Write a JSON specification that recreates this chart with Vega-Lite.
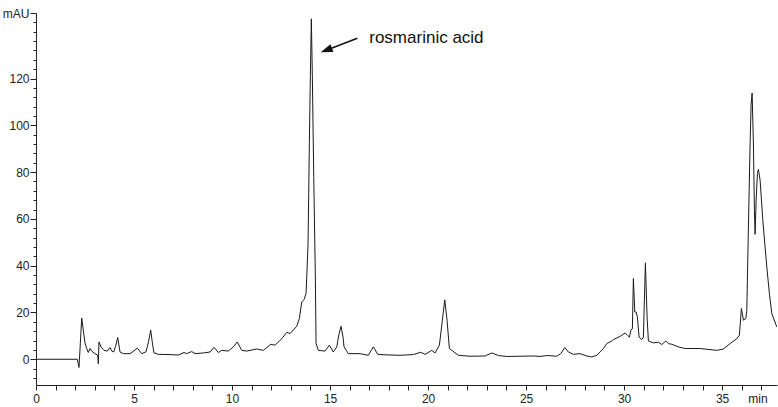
{
  "$schema": "https://vega.github.io/schema/vega-lite/v6.json",
  "autosize": "none",
  "width": 741,
  "height": 372,
  "padding": {"left": 36, "top": 13, "right": 1, "bottom": 22},
  "background": "white",
  "config": {
    "view": {"stroke": null},
    "font": "Liberation Sans",
    "axis": {"grid": false, "domainColor": "#222", "tickColor": "#222", "labelColor": "#222", "labelFont": "Liberation Sans", "labelFontSize": 12, "domainWidth": 1, "tickWidth": 1}
  },
  "datasets": {
    "trace": [
      {"t": 0, "v": 0}, {"t": 2.107, "v": 0}, {"t": 2.194, "v": -3.5}, {"t": 2.332, "v": 17.6}, {"t": 2.5, "v": 7.0},
      {"t": 2.587, "v": 4.6}, {"t": 2.668, "v": 2.9}, {"t": 2.755, "v": 4.6}, {"t": 2.857, "v": 3.4}, {"t": 3.01, "v": 2.4},
      {"t": 3.148, "v": 1.7}, {"t": 3.179, "v": -1.9}, {"t": 3.214, "v": 7.4}, {"t": 3.316, "v": 5.3}, {"t": 3.469, "v": 3.8},
      {"t": 3.638, "v": 3.5}, {"t": 3.776, "v": 5.0}, {"t": 3.862, "v": 3.5}, {"t": 3.964, "v": 3.1}, {"t": 4.056, "v": 5.5},
      {"t": 4.168, "v": 9.3}, {"t": 4.286, "v": 3.1}, {"t": 4.454, "v": 2.4}, {"t": 4.796, "v": 2.4}, {"t": 5.0, "v": 3.6},
      {"t": 5.168, "v": 4.8}, {"t": 5.393, "v": 2.4}, {"t": 5.612, "v": 3.2}, {"t": 5.74, "v": 7.5}, {"t": 5.852, "v": 12.4},
      {"t": 5.944, "v": 6.5}, {"t": 6.02, "v": 2.7}, {"t": 6.24, "v": 2.1}, {"t": 6.837, "v": 2.0}, {"t": 7.26, "v": 1.8},
      {"t": 7.551, "v": 2.9}, {"t": 7.689, "v": 2.4}, {"t": 7.944, "v": 3.3}, {"t": 8.112, "v": 2.4}, {"t": 8.536, "v": 2.7},
      {"t": 8.878, "v": 3.1}, {"t": 9.082, "v": 5.1}, {"t": 9.301, "v": 2.9}, {"t": 9.474, "v": 3.8}, {"t": 9.811, "v": 3.5},
      {"t": 10.066, "v": 5.3}, {"t": 10.27, "v": 7.4}, {"t": 10.495, "v": 3.8}, {"t": 10.75, "v": 3.5}, {"t": 11.26, "v": 4.4},
      {"t": 11.597, "v": 3.8}, {"t": 11.974, "v": 6.4}, {"t": 12.194, "v": 6.0}, {"t": 12.536, "v": 8.8}, {"t": 12.791, "v": 11.5},
      {"t": 12.959, "v": 11.0}, {"t": 13.301, "v": 14.1}, {"t": 13.434, "v": 17.4}, {"t": 13.556, "v": 24.5}, {"t": 13.673, "v": 25.5},
      {"t": 13.776, "v": 28.1}, {"t": 13.811, "v": 35.0}, {"t": 13.878, "v": 49.4}, {"t": 13.944, "v": 92.3}, {"t": 13.995, "v": 120.7},
      {"t": 14.046, "v": 145.5}, {"t": 14.097, "v": 120.7}, {"t": 14.168, "v": 78.2}, {"t": 14.25, "v": 35.2}, {"t": 14.286, "v": 6.7},
      {"t": 14.403, "v": 3.8}, {"t": 14.745, "v": 3.5}, {"t": 14.964, "v": 6.0}, {"t": 15.168, "v": 3.1}, {"t": 15.342, "v": 5.3},
      {"t": 15.449, "v": 10.5}, {"t": 15.561, "v": 14.1}, {"t": 15.663, "v": 9.5}, {"t": 15.714, "v": 5.3}, {"t": 15.934, "v": 2.4},
      {"t": 16.531, "v": 2.4}, {"t": 16.954, "v": 1.7}, {"t": 17.209, "v": 5.3}, {"t": 17.434, "v": 2.1}, {"t": 17.806, "v": 1.9},
      {"t": 18.571, "v": 1.7}, {"t": 19.25, "v": 2.0}, {"t": 19.628, "v": 3.0}, {"t": 19.847, "v": 2.1}, {"t": 20.189, "v": 3.8},
      {"t": 20.357, "v": 2.7}, {"t": 20.577, "v": 6.0}, {"t": 20.73, "v": 16.7}, {"t": 20.852, "v": 25.4}, {"t": 20.969, "v": 16.7},
      {"t": 21.087, "v": 4.6}, {"t": 21.26, "v": 3.5}, {"t": 21.546, "v": 1.7}, {"t": 22.143, "v": 1.3}, {"t": 22.908, "v": 1.4},
      {"t": 23.25, "v": 2.7}, {"t": 23.587, "v": 1.6}, {"t": 24.015, "v": 1.2}, {"t": 25.372, "v": 1.4}, {"t": 25.714, "v": 1.2},
      {"t": 26.056, "v": 1.6}, {"t": 26.566, "v": 1.3}, {"t": 26.77, "v": 2.4}, {"t": 26.974, "v": 5.0}, {"t": 27.158, "v": 3.1},
      {"t": 27.413, "v": 2.1}, {"t": 27.755, "v": 2.4}, {"t": 28.097, "v": 1.4}, {"t": 28.352, "v": 1.0}, {"t": 28.607, "v": 1.7},
      {"t": 28.776, "v": 3.1}, {"t": 28.944, "v": 4.6}, {"t": 29.117, "v": 6.7}, {"t": 29.372, "v": 7.8}, {"t": 29.454, "v": 8.4},
      {"t": 29.796, "v": 9.8}, {"t": 30.051, "v": 11.2}, {"t": 30.168, "v": 10.3}, {"t": 30.27, "v": 9.5}, {"t": 30.357, "v": 12.7},
      {"t": 30.423, "v": 13.0}, {"t": 30.474, "v": 34.5}, {"t": 30.546, "v": 20.2}, {"t": 30.612, "v": 20.2}, {"t": 30.679, "v": 18.1},
      {"t": 30.765, "v": 9.5}, {"t": 30.903, "v": 8.4}, {"t": 30.985, "v": 9.5}, {"t": 31.087, "v": 41.2}, {"t": 31.173, "v": 18.1},
      {"t": 31.24, "v": 7.8}, {"t": 31.495, "v": 7.0}, {"t": 31.75, "v": 7.3}, {"t": 31.923, "v": 6.3}, {"t": 32.128, "v": 7.8},
      {"t": 32.26, "v": 6.7}, {"t": 32.434, "v": 6.4}, {"t": 32.77, "v": 5.3}, {"t": 33.112, "v": 4.6}, {"t": 33.878, "v": 4.6},
      {"t": 34.73, "v": 3.8}, {"t": 35.066, "v": 4.4}, {"t": 35.408, "v": 6.7}, {"t": 35.75, "v": 8.8}, {"t": 35.883, "v": 10.3},
      {"t": 35.985, "v": 21.7}, {"t": 36.087, "v": 16.7}, {"t": 36.209, "v": 17.4}, {"t": 36.26, "v": 20.9}, {"t": 36.342, "v": 56.5},
      {"t": 36.429, "v": 92.2}, {"t": 36.48, "v": 109.0}, {"t": 36.531, "v": 113.8}, {"t": 36.597, "v": 92.0}, {"t": 36.648, "v": 63.7},
      {"t": 36.684, "v": 53.4}, {"t": 36.735, "v": 68.0}, {"t": 36.801, "v": 79.4}, {"t": 36.852, "v": 81.2}, {"t": 36.939, "v": 76.5},
      {"t": 37.077, "v": 59.4}, {"t": 37.281, "v": 39.4}, {"t": 37.413, "v": 28.0}, {"t": 37.536, "v": 19.5}, {"t": 37.791, "v": 13.8}
    ],
    "arrow": [{"t": 16.393, "v": 137.2, "t2": 14.81, "v2": 132.1}],
    "head": [{"t": 14.81, "v": 132.1}],
    "note": [{"t": 17.0, "v": 135.0, "label": "rosmarinic acid"}]
  },
  "encoding": {
    "x": {
      "field": "t", "type": "quantitative",
      "scale": {"domain": [0, 37.8], "nice": false, "zero": false},
      "axis": {
        "title": null,
        "values": [0,1,2,3,4,5,6,7,8,9,10,11,12,13,14,15,16,17,18,19,20,21,22,23,24,25,26,27,28,29,30,31,32,33,34,35,36,36.8,37],
        "labelExpr": "datum.value == 36.8 ? 'min' : (datum.value % 5 == 0 ? datum.label : '')",
        "tickOpacity": {"condition": {"test": "datum.value == 36.8", "value": 0}, "value": 1},
        "tickSize": 5,
        "labelPadding": 3,
        "labelFlush": false,
        "labelOverlap": false
      }
    },
    "y": {
      "field": "v", "type": "quantitative",
      "scale": {"domain": [-11, 148], "nice": false, "zero": false},
      "axis": {
        "title": null,
        "values": [-8,-4,0,4,8,12,16,20,24,28,32,36,40,44,48,52,56,60,64,68,72,76,80,84,88,92,96,100,104,108,112,116,120,124,128,132,136,140,144,148],
        "labelExpr": "datum.value == 148 ? 'mAU' : ((datum.value % 20 == 0 && datum.value <= 120) ? datum.label : '')",
        "tickSize": {"condition": {"test": "(datum.value % 20 == 0 && datum.value <= 120) || datum.value == 148", "value": 6}, "value": 3},
        "labelPadding": 1,
        "labelOverlap": false
      }
    }
  },
  "layer": [
    {
      "data": {"name": "trace"},
      "mark": {"type": "line", "stroke": "#1a1a1a", "strokeWidth": 1, "clip": true}
    },
    {
      "data": {"name": "arrow"},
      "mark": {"type": "rule", "stroke": "#111", "strokeWidth": 1.5},
      "encoding": {
        "x2": {"field": "t2"},
        "y2": {"field": "v2"}
      }
    },
    {
      "data": {"name": "head"},
      "mark": {"type": "point", "shape": "M0,-1L0.7,1L-0.7,1Z", "size": 144, "angle": 249, "filled": true, "color": "#111", "opacity": 1}
    },
    {
      "data": {"name": "note"},
      "mark": {"type": "text", "align": "left", "baseline": "alphabetic", "font": "Liberation Sans", "fontSize": 17, "color": "#111"},
      "encoding": {
        "text": {"field": "label"}
      }
    }
  ]
}
